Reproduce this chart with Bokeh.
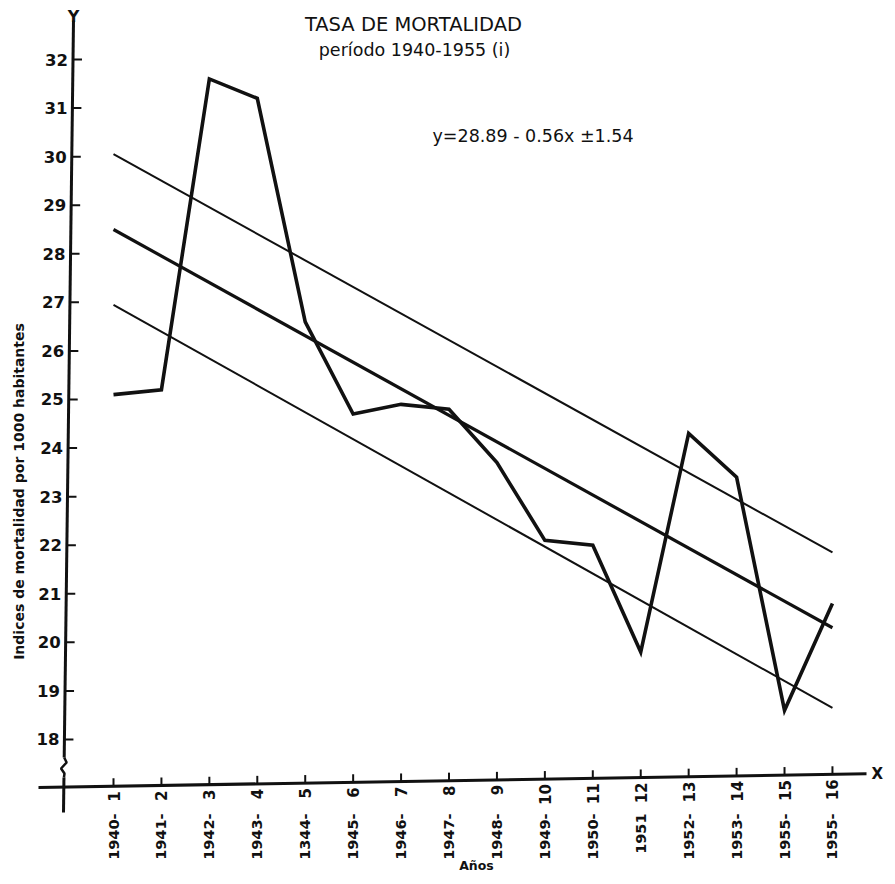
import math
from bokeh.plotting import figure
from bokeh.models import Range1d
from bokeh.core.properties import value
from bokeh.embed import file_html
from bokeh.resources import INLINE

# ---------------- data ----------------
periods = list(range(1, 17))
year_labels = ["1940-", "1941-", "1942-", "1943-", "1344-", "1945-", "1946-", "1947-",
               "1948-", "1949-", "1950-", "1951", "1952-", "1953-", "1955-", "1955-"]
period_labels = [str(i) for i in periods]
rates = [25.1, 25.2, 31.6, 31.2, 26.6, 24.7, 24.9, 24.8,
         23.7, 22.1, 22.0, 19.8, 24.3, 23.4, 18.6, 20.8]
y_ticks = list(range(18, 33))
trend_x = [1, 16]
trend_mid = [28.5, 20.3]
trend_upper = [30.05, 21.85]
trend_lower = [26.95, 18.65]

title1 = "TASA DE MORTALIDAD"
title2 = "período 1940-1955 (i)"
equation = "y=28.89 - 0.56x ±1.54"
y_title = "Indices de mortalidad por 1000 habitantes"
x_title = "Años"

# ---------------- layout (pixel helpers) ----------------
W, H = 887, 876
XPX1, XSTEP = 113.0, 47.93      # pixel of x=1, pixels per unit
YPX32, YSTEP = 59.0, 48.57      # pixel of y=32, pixels per unit
X0 = 1 - XPX1 / XSTEP
X1 = 1 + (W - XPX1) / XSTEP
Y1 = 32 + YPX32 / YSTEP
Y0 = 32 - (H - YPX32) / YSTEP


def px(rx):
    return 1 + (rx - XPX1) / XSTEP


def py(ry):
    return 32 - (ry - YPX32) / YSTEP


def ypix(v):
    return YPX32 + (32 - v) * YSTEP


def yaxis_px(ry):          # slightly leaning y axis of the scan
    return 73 - (ry - 20) * 10 / 792


def xaxis_py(rx):          # slightly leaning x axis of the scan
    return 787 - (rx - 38) * 14 / 840


FONT = value("DejaVu Sans")
ink = "#111111"

p = figure(width=W, height=H, output_backend="svg", toolbar_location=None,
           x_range=Range1d(X0, X1), y_range=Range1d(Y0, Y1), min_border=0,
           outline_line_color=None)
p.axis.visible = False
p.grid.visible = False
p.min_border_left = p.min_border_right = p.min_border_top = p.min_border_bottom = 0

# ---- y axis with break ----
p.line([px(yaxis_px(20)), px(yaxis_px(757))], [py(20), py(757)], line_color=ink, line_width=3)
sq_y = [757, 762, 768, 773, 777]
sq_dx = [0, 2.5, -3, 0.5, 0]
p.line([px(yaxis_px(r) + d) for r, d in zip(sq_y, sq_dx)], [py(r) for r in sq_y],
       line_color=ink, line_width=2.5)
p.line([px(yaxis_px(777)), px(yaxis_px(812))], [py(777), py(812)], line_color=ink, line_width=3)

tick_px = [yaxis_px(ypix(v)) for v in y_ticks]
p.segment(x0=[px(t) for t in tick_px], y0=y_ticks,
          x1=[px(t + 9) for t in tick_px], y1=y_ticks, line_color=ink, line_width=2)
p.text(x=[px(t - 5) for t in tick_px], y=y_ticks, text=[str(t) for t in y_ticks],
       text_align="right", text_baseline="middle", text_font=FONT,
       text_font_style="bold", text_font_size="16.5px", text_color=ink)

# ---- x axis ----
AX_END = 866
p.line([px(38), px(AX_END)], [py(xaxis_py(38)), py(xaxis_py(AX_END))], line_color=ink, line_width=3)
per_px = [XPX1 + (k - 1) * XSTEP for k in periods]
p.segment(x0=periods, y0=[py(xaxis_py(r)) for r in per_px],
          x1=periods, y1=[py(xaxis_py(r) - 8) for r in per_px], line_color=ink, line_width=2)
p.text(x=periods, y=[py(xaxis_py(r) + 5) for r in per_px], text=period_labels,
       angle=math.pi / 2, text_align="right", text_baseline="middle", text_font=FONT,
       text_font_style="bold", text_font_size="15px", text_color=ink)
p.text(x=periods, y=[py(813)] * 16, text=year_labels, angle=math.pi / 2,
       text_align="right", text_baseline="middle", text_font=FONT,
       text_font_style="bold", text_font_size="14.5px", text_color=ink)

# ---- axis letters and titles ----
p.text(x=[px(73)], y=[py(16)], text=["Y"], text_align="center", text_baseline="middle",
       text_font=FONT, text_font_style="bold", text_font_size="16px", text_color=ink)
p.text(x=[px(AX_END + 5)], y=[py(xaxis_py(AX_END))], text=["X"], text_align="left",
       text_baseline="middle", text_font=FONT, text_font_style="bold",
       text_font_size="15px", text_color=ink)
p.text(x=[px(18)], y=[py(491)], text=[y_title], angle=math.pi / 2,
       text_align="center", text_baseline="middle", text_font=FONT,
       text_font_style="bold", text_font_size="14px", text_color=ink)
p.text(x=[px(476)], y=[py(865)], text=[x_title], text_align="center",
       text_baseline="middle", text_font=FONT, text_font_style="bold",
       text_font_size="12.5px", text_color=ink)
p.text(x=[px(413)], y=[py(24)], text=[title1], text_align="center",
       text_baseline="middle", text_font=FONT, text_font_size="19.5px", text_color=ink)
p.text(x=[px(414)], y=[py(49)], text=[title2], text_align="center",
       text_baseline="middle", text_font=FONT, text_font_size="17.5px", text_color=ink)
p.text(x=[px(432)], y=[py(135)], text=[equation], text_align="left",
       text_baseline="middle", text_font=FONT, text_font_size="17.5px", text_color=ink)

# ---- regression band ----
p.line(trend_x, trend_upper, line_color=ink, line_width=2)
p.line(trend_x, trend_lower, line_color=ink, line_width=2)
p.line(trend_x, trend_mid, line_color=ink, line_width=3.2)

# ---- data ----
p.line(periods, rates, line_color=ink, line_width=3.6, line_join="miter")

open("out.html", "w").write(file_html(p, INLINE))
